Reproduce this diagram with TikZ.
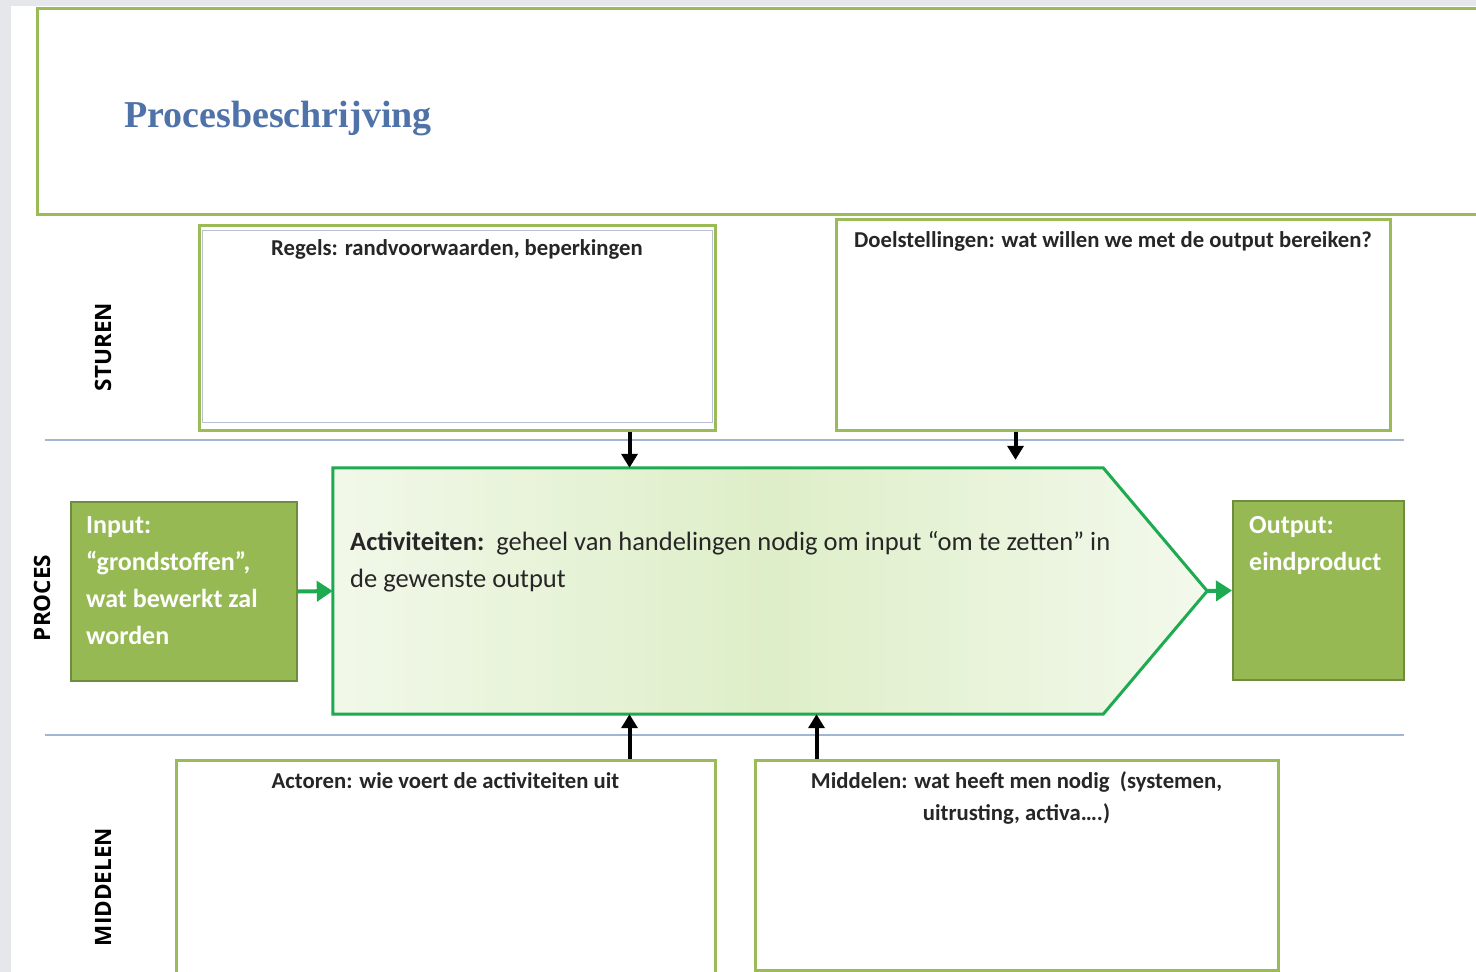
\documentclass[tikz,border=0pt]{standalone}
\usepackage{fontspec}
\setmainfont{Carlito}
\newfontfamily\kopfont{Liberation Serif}
\newfontfamily\zijfont{Open Sans}
\usepackage{xcolor}
\usetikzlibrary{positioning}
\usetikzlibrary{arrows.meta}
\usetikzlibrary{calc}

\definecolor{olijf}{RGB}{155,187,89}
\definecolor{blokgroen}{RGB}{150,185,84}
\definecolor{blokrand}{RGB}{112,140,62}
\definecolor{procesgroen}{RGB}{30,170,80}
\definecolor{kopblauw}{RGB}{79,114,168}
\definecolor{lijnblauw}{RGB}{160,182,210}
\definecolor{randgrijs}{RGB}{185,192,212}
\definecolor{achtergrond}{RGB}{229,231,234}
\definecolor{actlinks}{RGB}{241,248,233}
\definecolor{actmidden}{RGB}{222,238,200}
\definecolor{actrechts}{RGB}{243,249,236}

\begin{document}
\begin{tikzpicture}[x=1pt,y=-1pt,
  kader/.style={draw=olijf,line width=3pt,fill=white,inner sep=0pt},
  blok/.style={draw=blokrand,fill=blokgroen,line width=2pt,inner sep=0pt},
  kaderlabel/.style={inner sep=0pt,font=\bfseries\fontsize{22.7}{32}\selectfont,text=black!85},
  bloktekst/.style={inner sep=0pt,align=flush left,text=white,font=\bfseries\fontsize{26}{37}\selectfont},
  zijlabel/.style={rotate=90,inner sep=0pt,font=\zijfont\bfseries\fontsize{22.5}{26}\selectfont},
  stuurpijl/.style={-{Triangle[width=16pt,length=14pt]},line width=4pt,black},
  stroompijl/.style={-{Triangle[width=20pt,length=16pt]},line width=4pt,procesgroen},
  scheiding/.style={draw=lijnblauw,line width=1.3pt}]
\useasboundingbox (0,0) rectangle (1476,972);
\clip (0,0) rectangle (1476,972);
\fill[achtergrond] (0,0) rectangle (1476,972);
\fill[white] (11,6) rectangle (1476,972);

% kop
\node[kader] (titel) [minimum width=1463pt,minimum height=206pt] at (768.5,111) {};
\node[anchor=base west,inner sep=0pt,text=kopblauw,font=\kopfont\bfseries\fontsize{38}{44}\selectfont] (kop) at (124,127) {Procesbeschrijving};

% sturen
\node[kader] (regels) [minimum width=516pt,minimum height=205pt] at (457,327.5) {};
\draw[randgrijs,line width=1.2pt] ([shift={(5,7)}]regels.north west) rectangle ([shift={(-4,-9)}]regels.south east);
\node[kaderlabel,anchor=base] (regelstxt) at ($(regels.north)+(0,32)$) {Regels: randvoorwaarden, beperkingen};
\node[kader] (doel) [minimum width=554pt,minimum height=211pt] at (1113,324.5) {};
\node[kaderlabel,anchor=base] (doeltxt) at ($(doel.north)+(0,30)$) {Doelstellingen: wat willen we met de output bereiken?};

\draw[scheiding] (45,440) -- (1404,440);
\draw[scheiding] (45,735) -- (1404,735);

% proces
\node[inner sep=0pt,minimum width=770pt,minimum height=246pt] (act) at (718,591) {};
\coordinate (punt) at ($(act.east)+(104,0)$);
\draw[procesgroen,line width=3pt,left color=actlinks,right color=actrechts,middle color=actmidden]
  (act.north west) -- (act.north east) -- (punt) -- (act.south east) -- (act.south west) -- cycle;
\node[anchor=base west,inner sep=0pt,text width=840pt,align=flush left,font=\fontsize{26.5}{37}\selectfont,text=black!85] (acttxt) at (350,550)
  {\textbf{Activiteiten:}\ \ geheel van handelingen nodig om input “om te zetten” in\\de gewenste output};

\node[blok] (input) [minimum width=226pt,minimum height=179pt] at (184,591.5) {};
\node[bloktekst,anchor=base west,text width=205pt] (inputtxt) at (86,533) {Input:\\“grondstoffen”,\\wat bewerkt zal\\worden};
\node[blok] (output) [minimum width=171pt,minimum height=179pt] at (1318.5,590.5) {};
\node[bloktekst,anchor=base west,text width=150pt] (outputtxt) at (1249,533) {Output:\\eindproduct};

\draw[stroompijl] (input.east) -- (act.west);
\draw[stroompijl] (punt) -- (output.west);

% middelen
\node[kader] (actoren) [minimum width=539pt,minimum height=215pt] at (445.5,867.5) {};
\node[kaderlabel,anchor=base] (actorentxt) at ($(actoren.north)+(0,30)$) {Actoren: wie voert de activiteiten uit};
\node[kader] (middelen) [minimum width=523pt,minimum height=210pt] at (1016.5,865) {};
\node[kaderlabel,anchor=base,text width=480pt,align=flush center] (middelentxt) at ($(middelen.north)+(0,30)$) {Middelen: wat heeft men nodig\ \ (systemen,\\uitrusting, activa….)};

% pijlen naar activiteiten
\coordinate (r1) at ($(regels.south east)+(-87,0)$);
\coordinate (d1) at ($(doel.south west)+(181,0)$);
\coordinate (a1) at ($(actoren.north east)+(-87,0)$);
\coordinate (m1) at ($(middelen.north west)+(63,0)$);
\draw[stuurpijl] (r1) -- (r1 |- act.north);
\draw[stuurpijl,shorten >=8pt] (d1) -- (d1 |- act.north);
\draw[stuurpijl] (a1) -- (a1 |- act.south);
\draw[stuurpijl] (m1) -- (m1 |- act.south);

% zijlabels
\node[zijlabel] (sturen) at (103,347) {STUREN};
\node[zijlabel] (proces) at (42,598) {PROCES};
\node[zijlabel] (middelenlabel) at (103,887) {MIDDELEN};
\end{tikzpicture}
\end{document}
